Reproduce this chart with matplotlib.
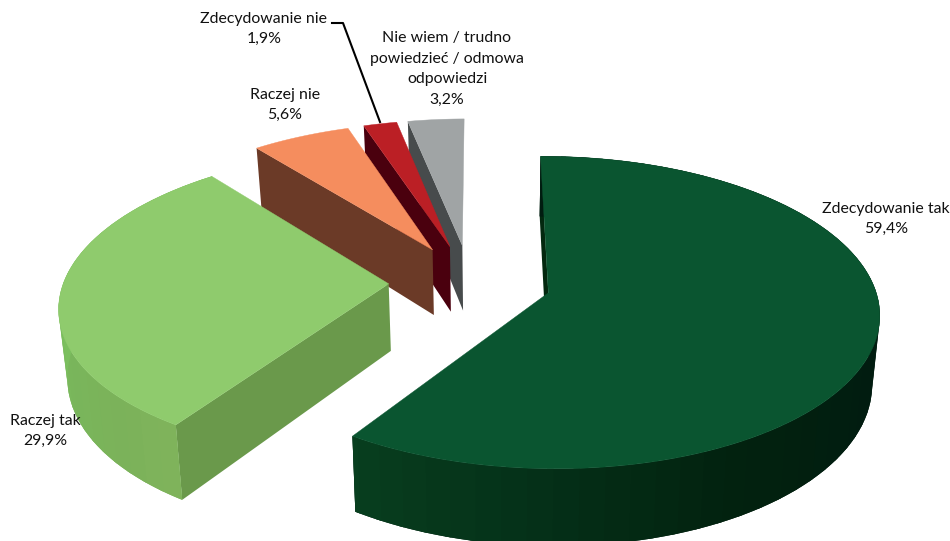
# %%
#Dependencies and setup
import matplotlib
matplotlib.use("Agg")
import matplotlib.pyplot as plt
from matplotlib.patches import Polygon
import numpy as np

# %%
#Survey answers, clockwise from 12 o'clock
answers = ["Zdecydowanie tak", "Raczej tak", "Raczej nie", "Zdecydowanie nie",
           "Nie wiem / trudno\npowiedzieć / odmowa\nodpowiedzi"]
shares = [59.4, 29.9, 5.6, 1.9, 3.2]

top_colors = ["#0A5530", "#8FCB6D", "#F58D5E", "#BB1F25", "#A0A4A5"]
side_colors = ["#03280F", "#6A994B", "#6B3A27", "#4A000E", "#474B4C"]

#Rim shading: angle in degrees -> colour, per slice
rim_angles = [[0, 60, 110, 150, 185, 214],
              [214, 225, 245, 262, 322]]
rim_colors = [["#011C10", "#011C10", "#011C10", "#02220F", "#053219", "#08401F"],
              ["#7FB35B", "#7BB25A", "#79B65B", "#7BBF5E", "#7BBF5E"]]

#View settings for the tilted pie
CX, CY = 470, 282
CAM_X = 497
RX, RY = 325, 151
PERSP = 0.125
DEPTH = 67
DEPTH_SCALE = 0.98
EXPLODE = 0.25
FIRST_ANGLE = -0.4

# %%
#Perspective projection of a point on the unit disc
#u points right, v points at the viewer, low=True gives the lower face
def project(u, v, low=False):
    d = 1 - PERSP * v
    x = CAM_X + (CX - CAM_X + RX * u) / d
    y = CY + RY * v / d
    if low:
        x = CAM_X + (x - CAM_X) * DEPTH_SCALE
        y = y + DEPTH / d
    return x, y

def hex_rgb(c):
    return np.array(matplotlib.colors.to_rgb(c))

#Draw one exploded slice: walls first, the top face over them
def draw_slice(ax, start, end, top, side, r_angles=None, r_colors=None):
    mid = np.radians((start + end) / 2)
    ou, ov = EXPLODE * np.sin(mid), -EXPLODE * np.cos(mid)
    deg = np.linspace(start, end, max(int(end - start) + 1, 6))
    us = ou + np.sin(np.radians(deg))
    vs = ov - np.cos(np.radians(deg))

    #radial wall, only the leading edge ever shows here
    pts = [project(ou, ov), project(us[0], vs[0]),
           project(us[0], vs[0], True), project(ou, ov, True)]
    ax.add_patch(Polygon(pts, closed=True, fc=side, ec="none"))

    #outer wall, only for the two big slices that face the viewer:
    #one solid band, then coarse shaded facets on it
    if r_angles is not None:
        band = [project(u, v) for u, v in zip(us, vs)] + \
               [project(u, v, True) for u, v in zip(us[::-1], vs[::-1])]
        ax.add_patch(Polygon(band, closed=True, fc=r_colors[2], ec="none"))
        rgb = [hex_rgb(c) for c in r_colors]
        for i in range(0, len(deg) - 1, 4):
            j2 = min(i + 5, len(deg) - 1)
            col = [np.interp(deg[i], r_angles, [c[j] for c in rgb]) for j in range(3)]
            pts = [project(u, v) for u, v in zip(us[i:j2 + 1], vs[i:j2 + 1])] + \
                  [project(u, v, True) for u, v in zip(us[i:j2 + 1][::-1], vs[i:j2 + 1][::-1])]
            ax.add_patch(Polygon(pts, closed=True, fc=col, ec="none"))

    face = [project(ou, ov)] + [project(u, v) for u, v in zip(us, vs)]
    ax.add_patch(Polygon(face, closed=True, fc=top, ec=top, lw=0.3))

# %%
plt.rcParams["font.family"] = ["Lato", "DejaVu Sans"]
fig = plt.figure(figsize=(9.5, 5.41), dpi=100)
ax = fig.add_axes([0, 0, 1, 1])
ax.set_xlim(0, 950)
ax.set_ylim(541, 0)
ax.axis("off")

total = sum(shares)
edges = np.concatenate([[0], np.cumsum(shares)]) / total * 360 + FIRST_ANGLE

#Back slices first so the front ones cover them
for i in [4, 3, 2, 1, 0]:
    ra = rim_angles[i] if i < 2 else None
    rc = rim_colors[i] if i < 2 else None
    draw_slice(ax, edges[i], edges[i + 1], top_colors[i], side_colors[i], ra, rc)

#Leader line for the small slice
ax.plot([332, 343, 380], [23, 23, 122], color="black", lw=1.5, zorder=4)

#Labels
label_x = [886, 45, 285, 264, 447]
label_y = [219, 431, 105, 29, 69]
for name, val, x, y in zip(answers, shares, label_x, label_y):
    txt = name + "\n" + f"{val:.1f}".replace(".", ",") + "%"
    ax.text(x, y, txt, ha="center", va="center", fontsize=11.4, color="#111111",
            linespacing=1.58, zorder=5)

fig.savefig("out.png", dpi=100)
